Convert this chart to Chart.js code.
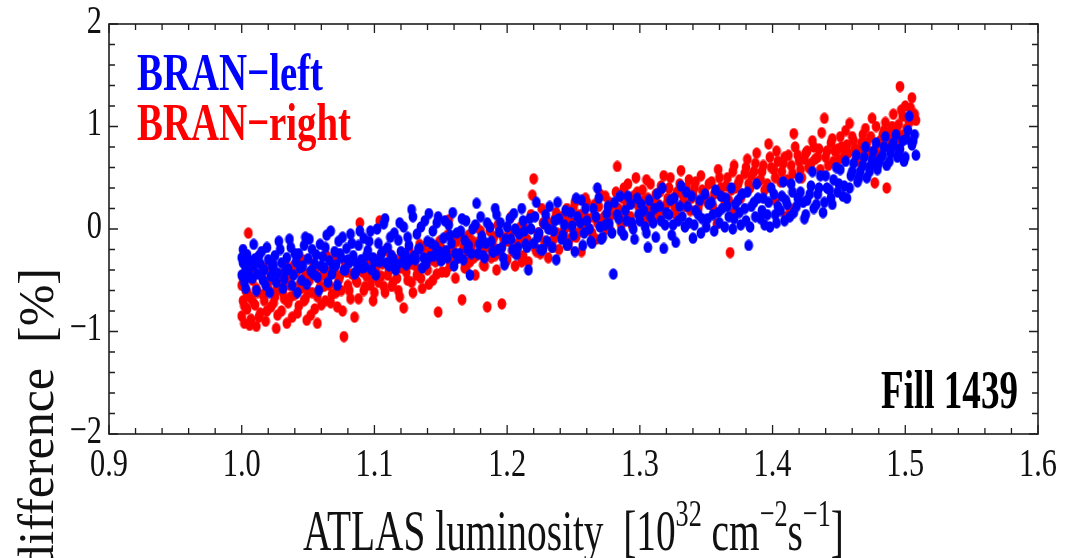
<!DOCTYPE html>
<html>
<head>
<meta charset="utf-8">
<script src="https://cdn.jsdelivr.net/npm/chart.js@4.4.0/dist/chart.umd.min.js"></script>
<style>
  html, body { margin: 0; padding: 0; background: #ffffff; }
  #wrap { width: 1074px; height: 558px; }
</style>
</head>
<body>
<div id="wrap"><canvas id="chart" width="1074" height="558"></canvas></div>
<script>
// Series names and colours
var seriesNames = ['BRAN\u2212left', 'BRAN\u2212right'];
var seriesColors = ['#0000ff', '#ff0000'];
var fillLabel = 'Fill 1439';

// Axis ticks
var xTicks = [0.9, 1.0, 1.1, 1.2, 1.3, 1.4, 1.5, 1.6];
var xTickLabels = ['0.9', '1.0', '1.1', '1.2', '1.3', '1.4', '1.5', '1.6'];
var yTicks = [-2, -1, 0, 1, 2];
var yTickLabels = ['\u22122', '\u22121', '0', '1', '2'];

// BRAN-left: [luminosity, difference %]
var bluePoints = [
  [1.000,-0.28],[1.000,-0.45],[1.001,-0.33],[1.002,-0.52],[1.003,-0.38],[1.004,-0.25],[1.005,-0.42],[1.006,-0.31],
  [1.008,-0.48],[1.009,-0.36],[1.010,-0.29],[1.012,-0.44],[1.014,-0.34],[1.015,-0.22],[1.017,-0.40],[1.018,-0.55],
  [1.020,-0.30],[1.022,-0.46],[1.023,-0.37],[1.025,-0.26],[1.027,-0.43],[1.028,-0.12],[1.030,-0.33],[1.032,-0.49],
  [1.034,-0.28],[1.035,-0.39],[1.037,-0.18],[1.039,-0.45],[1.041,-0.32],[1.043,-0.24],[1.045,-0.50],[1.046,-0.36],
  [1.048,-0.08],[1.050,-0.29],[1.052,-0.41],[1.053,-0.20],[1.055,-0.34],[1.057,-0.47],[1.059,-0.15],[1.061,-0.27],
  [1.062,-0.38],[1.064,-0.06],[1.066,-0.31],[1.068,-0.44],[1.070,-0.22],[1.071,-0.35],[1.073,-0.12],[1.075,-0.28],
  [1.077,-0.40],[1.079,-0.19],[1.081,-0.33],[1.082,-0.05],[1.084,-0.26],[1.086,-0.42],[1.088,-0.16],[1.090,-0.30],
  [1.092,-0.09],[1.093,-0.37],[1.095,-0.21],[1.097,-0.02],[1.099,-0.28],[1.101,-0.45],[1.103,-0.14],[1.105,-0.25],
  [1.107,0.05],[1.109,-0.33],[1.110,-0.18],[1.112,-0.08],[1.114,-0.29],[1.116,-0.40],[1.118,-0.11],[1.120,-0.22],
  [1.122,0.02],[1.124,-0.35],[1.126,-0.16],[1.128,0.19],[1.130,-0.26],[1.132,-0.05],[1.134,-0.19],[1.136,-0.38],
  [1.138,0.08],[1.140,-0.12],[1.142,-0.27],[1.144,-0.02],[1.146,-0.17],[1.148,0.12],[1.150,-0.31],[1.152,-0.09],
  [1.154,-0.21],[1.156,0.04],[1.158,-0.14],[1.160,-0.36],[1.162,-0.04],[1.164,-0.24],[1.166,0.10],[1.168,-0.11],
  [1.170,-0.20],[1.172,-0.45],[1.174,0.00],[1.177,0.25],[1.179,-0.15],[1.181,-0.07],[1.183,-0.28],[1.185,0.06],
  [1.188,-0.12],[1.190,-0.22],[1.192,0.14],[1.194,-0.03],[1.196,-0.18],[1.198,-0.35],[1.200,0.02],[1.203,-0.10],
  [1.205,0.15],[1.207,-0.25],[1.209,-0.05],[1.212,0.08],[1.214,-0.15],[1.216,-0.40],[1.218,0.00],[1.221,0.12],
  [1.223,-0.08],[1.225,-0.20],[1.228,0.05],[1.230,-0.12],[1.232,0.22],[1.235,-0.02],[1.237,-0.30],[1.239,0.10],
  [1.242,-0.06],[1.244,0.18],[1.246,-0.15],[1.249,0.03],[1.251,-0.22],[1.253,0.12],[1.256,0.28],[1.258,-0.04],
  [1.260,0.08],[1.263,-0.12],[1.265,0.20],[1.268,0.40],[1.270,0.02],[1.272,-0.08],[1.275,0.15],[1.277,0.05],
  [1.280,-0.44],[1.281,0.26],[1.284,0.10],[1.286,-0.02],[1.289,0.18],[1.291,0.32],[1.294,0.06],[1.296,-0.10],
  [1.299,0.14],[1.301,0.24],[1.304,0.02],[1.306,-0.18],[1.308,0.12],[1.311,0.20],[1.313,0.34],[1.316,0.08],
  [1.318,-0.19],[1.320,0.16],[1.323,0.28],[1.325,0.04],[1.327,-0.13],[1.330,0.22],[1.332,0.12],[1.335,0.36],
  [1.337,0.06],[1.340,-0.09],[1.342,0.18],[1.345,0.28],[1.347,0.10],[1.350,0.02],[1.352,0.24],[1.355,0.14],
  [1.357,0.38],[1.360,0.06],[1.362,0.20],[1.365,0.30],[1.367,0.12],[1.370,0.00],[1.372,0.24],[1.375,0.16],
  [1.377,0.34],[1.380,0.08],[1.382,-0.16],[1.384,0.22],[1.387,0.12],[1.389,0.30],[1.392,0.18],[1.394,0.04],
  [1.397,0.26],[1.399,0.40],[1.402,0.14],[1.404,0.22],[1.407,0.32],[1.409,0.08],[1.411,0.24],[1.414,0.44],
  [1.416,0.16],[1.419,0.30],[1.421,0.36],[1.424,0.10],[1.426,0.28],[1.429,0.42],[1.431,0.20],[1.434,0.34],
  [1.436,0.52],[1.439,0.26],[1.441,0.40],[1.444,0.30],[1.446,0.48],[1.449,0.36],[1.451,0.58],[1.454,0.42],
  [1.456,0.30],[1.459,0.52],[1.461,0.64],[1.464,0.46],[1.466,0.56],[1.469,0.70],[1.471,0.50],[1.474,0.62],
  [1.476,0.76],[1.479,0.58],[1.481,0.68],[1.484,0.80],[1.486,0.62],[1.489,0.74],[1.491,0.84],[1.494,0.70],
  [1.496,0.78],[1.499,0.66],[1.501,0.88],[1.503,1.10],[1.505,0.82],[1.507,0.92],[1.508,0.72],
  [1.001,-0.20],[1.003,-0.58],[1.006,-0.47],[1.009,-0.15],[1.011,-0.60],[1.013,-0.26],[1.016,-0.50],[1.019,-0.18],
  [1.021,-0.62],[1.024,-0.35],[1.026,-0.52],[1.029,-0.20],[1.031,-0.58],[1.033,-0.41],[1.036,-0.10],[1.038,-0.55],
  [1.040,-0.24],[1.042,-0.62],[1.044,-0.38],[1.047,-0.16],[1.049,-0.54],[1.051,-0.10],[1.054,-0.44],[1.056,-0.25],
  [1.058,-0.60],[1.060,-0.36],[1.063,-0.18],[1.065,-0.52],[1.067,-0.02],[1.069,-0.38],[1.072,-0.55],[1.074,-0.24],
  [1.076,-0.08],[1.078,-0.40],[1.080,-0.30],[1.083,-0.14],[1.085,-0.44],[1.087,-0.34],[1.089,-0.02],[1.091,-0.38],
  [1.094,-0.26],[1.096,-0.12],[1.098,-0.40],[1.100,-0.32],[1.102,0.00],[1.104,-0.32],[1.106,-0.22],[1.108,0.10],
  [1.111,-0.36],[1.113,-0.26],[1.115,-0.04],[1.117,-0.35],[1.119,0.06],[1.121,-0.32],[1.123,-0.24],[1.125,-0.08],
  [1.127,-0.30],[1.129,0.12],[1.131,-0.30],[1.133,-0.20],[1.135,0.02],[1.137,-0.28],[1.139,-0.34],[1.141,0.15],
  [1.143,-0.14],[1.145,-0.26],[1.147,0.06],[1.149,-0.22],[1.151,-0.30],[1.153,0.08],[1.155,-0.28],[1.157,-0.06],
  [1.159,0.16],[1.161,-0.24],[1.163,-0.28],[1.165,-0.02],[1.167,-0.30],[1.169,0.08],[1.171,-0.16],[1.173,-0.24],
  [1.176,0.04],[1.178,-0.24],[1.180,0.12],[1.182,-0.26],[1.184,-0.14],[1.187,0.02],[1.189,-0.22],[1.191,0.20],
  [1.193,-0.20],[1.195,0.06],[1.197,-0.28],[1.199,-0.10],[1.202,0.10],[1.204,-0.20],[1.206,0.00],[1.208,-0.18],
  [1.211,0.20],[1.213,-0.02],[1.215,-0.18],[1.217,0.10],[1.220,-0.14],[1.222,0.26],[1.224,-0.04],[1.227,-0.20],
  [1.229,0.14],[1.231,0.00],[1.234,-0.18],[1.236,0.08],[1.238,0.26],[1.241,-0.10],[1.243,0.04],[1.245,-0.16],
  [1.248,0.16],[1.250,-0.06],[1.252,0.30],[1.255,0.06],[1.257,-0.16],[1.259,0.20],[1.262,0.00],[1.264,-0.14],
  [1.267,0.12],[1.269,0.30],[1.271,-0.10],[1.274,0.04],[1.276,0.22],[1.279,-0.04],[1.283,0.14],[1.285,0.32],
  [1.288,-0.06],[1.290,0.08],[1.293,0.24],[1.295,0.00],[1.298,0.30],[1.300,0.08],[1.303,0.18],[1.305,-0.04],
  [1.307,0.28],[1.310,0.06],[1.312,-0.08],[1.315,0.22],[1.317,0.40],[1.319,0.04],[1.322,0.14],[1.324,-0.06],
  [1.326,0.30],[1.329,0.08],[1.331,0.42],[1.334,0.02],[1.336,0.22],[1.339,0.32],[1.341,0.04],[1.344,0.14],
  [1.346,-0.04],[1.349,0.34],[1.351,0.10],[1.354,0.26],[1.356,-0.02],[1.359,0.16],[1.361,0.32],[1.364,0.02],
  [1.366,0.22],[1.369,0.40],[1.371,0.10],[1.374,0.28],[1.376,0.04],[1.379,0.20],[1.381,0.36],[1.383,0.02],
  [1.386,0.26],[1.388,0.44],[1.391,0.10],[1.393,0.30],[1.396,0.14],[1.398,0.02],[1.401,0.34],[1.403,0.06],
  [1.406,0.18],[1.408,0.46],[1.410,0.28],[1.413,0.12],[1.415,0.36],[1.418,0.22],[1.420,0.50],[1.423,0.26],
  [1.425,0.14],[1.428,0.34],[1.430,0.56],[1.433,0.24],[1.435,0.40],[1.438,0.16],[1.440,0.52],[1.443,0.38],
  [1.445,0.24],[1.448,0.60],[1.450,0.44],[1.453,0.32],[1.455,0.66],[1.458,0.40],[1.460,0.56],[1.463,0.72],
  [1.465,0.50],[1.468,0.62],[1.470,0.80],[1.473,0.56],[1.475,0.68],[1.478,0.84],[1.480,0.64],[1.483,0.72],
  [1.485,0.90],[1.488,0.66],[1.490,0.80],[1.493,0.92],[1.495,0.74],[1.498,0.86],[1.500,0.70],[1.502,0.96],
  [1.506,0.86]
];

// BRAN-right: [luminosity, difference %]
var redPoints = [
  [1.000,-0.85],[1.000,-0.55],[1.001,-0.70],[1.002,-0.92],[1.003,-0.60],[1.004,-0.78],[1.005,-0.04],[1.006,-0.66],
  [1.007,-0.88],[1.008,-0.50],[1.010,-0.74],[1.011,-0.95],[1.012,-0.62],[1.014,-0.82],[1.015,-0.45],[1.017,-0.70],
  [1.018,-0.90],[1.020,-0.58],[1.022,-0.76],[1.023,-0.40],[1.025,-0.66],[1.026,-0.97],[1.028,-0.53],[1.030,-0.80],
  [1.031,-0.62],[1.033,-0.35],[1.035,-0.72],[1.036,-0.55],[1.038,-0.86],[1.040,-0.64],[1.041,-0.42],[1.043,-0.75],
  [1.045,-0.58],[1.046,-0.30],[1.048,-0.68],[1.049,-0.89],[1.051,-0.50],[1.053,-0.62],[1.055,-0.78],[1.056,-0.38],
  [1.057,-0.92],[1.059,-0.57],[1.061,-0.45],[1.063,-0.70],[1.064,-0.26],[1.066,-0.55],[1.068,-0.64],[1.070,-0.40],
  [1.072,-0.76],[1.073,-0.50],[1.075,-0.60],[1.077,-1.05],[1.078,-0.34],[1.080,-0.55],[1.082,-0.68],[1.083,-0.44],
  [1.085,-0.86],[1.087,-0.52],[1.089,0.06],[1.090,-0.38],[1.092,-0.60],[1.094,-0.46],[1.096,-0.28],[1.097,-0.55],
  [1.099,-0.70],[1.101,-0.40],[1.103,-0.52],[1.104,0.08],[1.106,-0.34],[1.108,-0.62],[1.110,-0.45],[1.112,-0.25],
  [1.113,-0.56],[1.115,-0.38],[1.117,-0.48],[1.119,-0.66],[1.121,-0.30],[1.122,-0.77],[1.124,-0.42],[1.126,-0.20],
  [1.128,-0.52],[1.130,-0.35],[1.132,-0.45],[1.134,-0.15],[1.136,-0.58],[1.138,-0.28],[1.140,-0.40],[1.142,-0.22],
  [1.144,-0.50],[1.146,-0.32],[1.148,-0.81],[1.149,-0.12],[1.151,-0.42],[1.153,-0.26],[1.156,0.09],[1.157,-0.36],
  [1.159,-0.18],[1.161,-0.48],[1.163,-0.28],[1.165,-0.06],[1.166,-0.69],[1.168,-0.38],[1.170,-0.22],[1.172,-0.32],
  [1.174,-0.12],[1.176,-0.45],[1.178,-0.25],[1.180,-0.02],[1.182,-0.35],[1.185,-0.76],[1.186,-0.18],[1.188,-0.28],
  [1.190,-0.08],[1.192,-0.40],[1.194,-0.20],[1.196,-0.73],[1.198,-0.12],[1.200,-0.30],[1.202,-0.05],[1.204,-0.22],
  [1.206,-0.36],[1.208,-0.14],[1.210,0.02],[1.212,-0.26],[1.214,-0.10],[1.216,-0.32],[1.219,0.33],[1.220,0.49],
  [1.221,-0.18],[1.223,-0.04],[1.225,-0.24],[1.227,0.06],[1.229,-0.14],[1.231,-0.28],[1.233,0.00],[1.235,-0.10],
  [1.237,0.16],[1.239,-0.20],[1.241,-0.05],[1.244,0.10],[1.246,-0.16],[1.248,0.02],[1.250,0.20],[1.252,-0.08],
  [1.254,0.08],[1.256,-0.22],[1.258,0.14],[1.260,0.26],[1.262,0.00],[1.265,0.12],[1.267,-0.10],[1.269,0.22],
  [1.271,0.06],[1.274,0.32],[1.276,0.16],[1.278,-0.02],[1.280,0.24],[1.283,0.61],[1.285,0.10],[1.287,0.30],
  [1.289,0.18],[1.291,0.44],[1.294,0.04],[1.296,0.26],[1.298,0.36],[1.300,0.14],[1.303,0.28],[1.305,0.48],
  [1.307,0.20],[1.309,0.08],[1.312,0.34],[1.314,0.24],[1.316,0.42],[1.319,0.16],[1.321,0.30],[1.323,0.50],
  [1.326,0.22],[1.328,0.36],[1.331,0.57],[1.333,0.28],[1.335,0.40],[1.338,0.18],[1.340,0.34],[1.342,0.46],
  [1.345,0.26],[1.347,0.38],[1.350,0.30],[1.352,0.44],[1.355,0.22],[1.357,0.36],[1.358,0.05],[1.360,0.50],
  [1.362,0.32],[1.365,0.42],[1.367,0.28],[1.368,-0.23],[1.370,0.56],[1.371,0.16],[1.372,0.40],[1.375,0.48],
  [1.377,0.34],[1.380,0.60],[1.382,0.44],[1.384,0.52],[1.387,0.64],[1.389,0.46],[1.392,0.56],[1.394,0.38],
  [1.397,0.83],[1.399,0.60],[1.402,0.50],[1.402,0.28],[1.404,0.66],[1.407,0.56],[1.409,0.70],[1.410,0.12],
  [1.411,0.48],[1.413,0.20],[1.414,0.62],[1.416,0.93],[1.419,0.72],[1.421,0.58],[1.424,0.68],[1.426,0.76],
  [1.429,0.64],[1.431,0.80],[1.434,0.70],[1.436,0.58],[1.439,1.08],[1.441,0.76],[1.444,0.84],[1.446,0.66],
  [1.449,0.78],[1.451,0.90],[1.454,0.72],[1.456,0.82],[1.458,1.03],[1.461,0.86],[1.463,0.68],[1.466,0.78],
  [1.468,0.92],[1.471,0.84],[1.473,0.60],[1.475,1.08],[1.477,0.45],[1.479,0.74],[1.481,0.86],[1.484,0.96],
  [1.486,0.40],[1.488,0.90],[1.490,1.00],[1.492,0.82],[1.494,0.94],[1.496,1.39],[1.498,1.10],[1.500,1.20],
  [1.501,0.98],[1.503,1.04],[1.505,1.28],[1.507,1.12],[1.508,1.06],
  [1.001,-0.48],[1.002,-0.75],[1.004,-0.62],[1.006,-0.94],[1.008,-0.70],[1.009,-0.42],[1.011,-0.58],[1.013,-0.86],
  [1.016,-0.64],[1.017,-0.38],[1.019,-0.80],[1.021,-0.50],[1.024,-0.72],[1.026,-0.60],[1.027,-0.84],[1.029,-0.44],
  [1.032,-0.68],[1.034,-0.92],[1.036,-0.48],[1.037,-0.66],[1.039,-0.36],[1.042,-0.82],[1.044,-0.54],[1.047,-0.70],
  [1.048,-0.44],[1.050,-0.62],[1.052,-0.84],[1.054,-0.34],[1.057,-0.66],[1.058,-0.48],[1.060,-0.74],[1.062,-0.56],
  [1.065,-0.42],[1.067,-0.72],[1.069,-0.30],[1.071,-0.62],[1.074,-0.46],[1.076,-0.80],[1.079,-0.42],[1.081,-0.60],
  [1.084,-0.30],[1.086,-0.50],[1.088,-0.68],[1.091,-0.42],[1.093,-0.56],[1.095,-0.34],[1.098,-0.48],[1.100,-0.62],
  [1.102,-0.30],[1.105,-0.46],[1.107,-0.56],[1.109,-0.20],[1.111,-0.40],[1.114,-0.52],[1.116,-0.30],[1.118,-0.60],
  [1.120,-0.38],[1.123,-0.26],[1.125,-0.50],[1.127,-0.34],[1.129,-0.62],[1.131,-0.28],[1.133,-0.40],[1.135,-0.48],
  [1.137,-0.18],[1.139,-0.36],[1.141,-0.54],[1.143,-0.30],[1.145,-0.20],[1.147,-0.44],[1.150,-0.18],[1.152,-0.28],
  [1.154,-0.42],[1.155,-0.06],[1.158,-0.22],[1.160,-0.32],[1.162,-0.12],[1.164,-0.26],[1.167,-0.18],[1.169,-0.38],
  [1.171,-0.06],[1.173,-0.18],[1.175,-0.28],[1.177,0.02],[1.179,-0.12],[1.181,-0.22],[1.183,-0.36],[1.187,-0.02],
  [1.189,-0.14],[1.191,-0.26],[1.193,0.04],[1.195,-0.20],[1.197,-0.08],[1.199,-0.32],[1.201,-0.12],[1.203,0.12],
  [1.205,-0.20],[1.207,-0.02],[1.209,-0.14],[1.211,-0.32],[1.213,0.02],[1.215,-0.10],[1.218,0.14],[1.222,-0.22],
  [1.224,-0.04],[1.226,0.20],[1.228,-0.12],[1.230,0.08],[1.232,0.00],[1.234,-0.18],[1.236,0.10],[1.238,-0.04],
  [1.240,0.12],[1.243,-0.02],[1.245,0.20],[1.247,-0.10],[1.249,0.06],[1.251,0.26],[1.253,-0.04],[1.255,0.14],
  [1.257,0.02],[1.259,0.30],[1.261,0.10],[1.264,-0.04],[1.266,0.24],[1.268,0.06],[1.270,0.34],[1.273,0.12],
  [1.275,0.00],[1.277,0.26],[1.279,0.14],[1.282,0.36],[1.284,0.20],[1.286,0.04],[1.288,0.40],[1.290,0.24],
  [1.293,0.12],[1.295,0.32],[1.297,0.50],[1.299,0.22],[1.302,0.38],[1.304,0.10],[1.306,0.30],[1.308,0.44],
  [1.311,0.26],[1.313,0.14],[1.315,0.36],[1.318,0.52],[1.320,0.24],[1.322,0.40],[1.325,0.30],[1.327,0.14],
  [1.330,0.44],[1.332,0.34],[1.334,0.22],[1.337,0.48],[1.339,0.30],[1.341,0.40],[1.344,0.20],[1.346,0.52],
  [1.349,0.36],[1.351,0.26],[1.354,0.46],[1.356,0.34],[1.359,0.58],[1.361,0.40],[1.364,0.26],[1.366,0.50],
  [1.369,0.38],[1.371,0.62],[1.374,0.44],[1.376,0.30],[1.379,0.54],[1.381,0.68],[1.383,0.40],[1.386,0.56],
  [1.388,0.74],[1.391,0.48],[1.393,0.62],[1.396,0.44],[1.398,0.70],[1.401,0.58],[1.403,0.76],[1.406,0.46],
  [1.408,0.64],[1.412,0.72],[1.415,0.54],[1.417,0.80],[1.420,0.66],[1.422,0.50],[1.425,0.74],[1.427,0.60],
  [1.430,0.86],[1.432,0.68],[1.435,0.78],[1.437,0.94],[1.440,0.70],[1.442,0.62],[1.445,0.88],[1.447,0.76],
  [1.450,0.68],[1.452,0.80],[1.455,0.96],[1.457,0.74],[1.460,0.90],[1.462,0.78],[1.465,0.66],[1.467,0.84],
  [1.470,0.98],[1.472,0.76],[1.474,0.90],[1.476,0.66],[1.478,1.00],[1.480,0.84],[1.483,0.92],[1.485,1.04],
  [1.487,0.80],[1.489,0.96],[1.491,1.12],[1.493,0.88],[1.495,1.02],[1.497,1.16],[1.499,0.92],[1.502,1.08],
  [1.504,1.18]
];

function toXY(points) {
  return points.map(function (p) { return { x: p[0], y: p[1] }; });
}

// Slightly tall elliptical marker, as in the squeezed original
function makeDot(color) {
  var c = document.createElement('canvas');
  c.width = 10;
  c.height = 12;
  var g = c.getContext('2d');
  g.fillStyle = color;
  g.beginPath();
  g.ellipse(5, 6, 4.4, 5.7, 0, 0, Math.PI * 2);
  g.fill();
  return c;
}

// Text squeezed horizontally (the original uses a narrow Times)
function squeezeText(ctx, str, x, y, font, color, align, baseline, sx) {
  ctx.save();
  ctx.font = font;
  ctx.fillStyle = color;
  ctx.textAlign = align;
  ctx.textBaseline = baseline;
  ctx.translate(x, y);
  ctx.scale(sx, 1);
  ctx.fillText(str, 0, 0);
  ctx.restore();
}

// Text squeezed to a given width, left aligned
function fitText(ctx, str, x, y, width, font, color) {
  ctx.save();
  ctx.font = font;
  var w = ctx.measureText(str).width;
  ctx.restore();
  squeezeText(ctx, str, x, y, font, color, 'left', 'alphabetic', width / w);
}

var serif = '"Liberation Serif", "Times New Roman", serif';

// Frame, inside ticks, labels and titles
var framePlugin = {
  id: 'frame',
  afterDraw: function (chart) {
    var ctx = chart.ctx;
    var xs = chart.scales.x;
    var ys = chart.scales.y;
    var a = chart.chartArea;
    var i, v, p, len;

    ctx.save();
    ctx.strokeStyle = '#1e1e1e';
    ctx.lineWidth = 1.6;
    ctx.strokeRect(a.left, a.top, a.right - a.left, a.bottom - a.top);

    ctx.lineWidth = 1.3;
    ctx.beginPath();
    for (i = 0; i <= 35; i++) {
      v = 0.9 + i * 0.02;
      p = xs.getPixelForValue(v);
      len = (i % 5 === 0) ? 9 : 6;
      ctx.moveTo(p, a.bottom); ctx.lineTo(p, a.bottom - len);
      ctx.moveTo(p, a.top); ctx.lineTo(p, a.top + len);
    }
    for (i = 0; i <= 20; i++) {
      v = -2 + i * 0.2;
      p = ys.getPixelForValue(v);
      len = (i % 5 === 0) ? 9 : 6;
      ctx.moveTo(a.left, p); ctx.lineTo(a.left + len, p);
      ctx.moveTo(a.right, p); ctx.lineTo(a.right - len, p);
    }
    ctx.stroke();
    ctx.restore();

    // tick labels
    xTicks.forEach(function (t, k) {
      squeezeText(ctx, xTickLabels[k], xs.getPixelForValue(t), 476,
        '41px ' + serif, '#111', 'center', 'alphabetic', 0.74);
    });
    yTicks.forEach(function (t, k) {
      squeezeText(ctx, yTickLabels[k], 102, ys.getPixelForValue(t) - 2,
        '41px ' + serif, '#111', 'right', 'middle', 0.74);
    });

    // x title with superscripts
    var parts = [
      ['ATLAS luminosity  [10', false], ['32', true], [' cm', false],
      ['\u22122', true], ['s', false], ['\u22121', true], [']', false]
    ];
    var sx = 0.69, x = 303, base = 550;
    ctx.save();
    parts.forEach(function (pt) {
      var f = pt[1] ? '38px ' + serif : '57px ' + serif;
      ctx.font = f;
      var w = ctx.measureText(pt[0]).width * sx;
      squeezeText(ctx, pt[0], x, pt[1] ? base - 24 : base, f, '#111', 'left', 'alphabetic', sx);
      x += w;
    });
    ctx.restore();

    // y title, rotated
    ctx.save();
    ctx.translate(53, 268);
    ctx.rotate(-Math.PI / 2);
    ctx.font = '50px ' + serif;
    ctx.fillStyle = '#111';
    ctx.textAlign = 'right';
    ctx.textBaseline = 'alphabetic';
    ctx.fillText('difference  [%]', 0, 0);
    ctx.restore();

    // legend text and fill label
    fitText(ctx, seriesNames[0], 137, 90, 186, 'bold 53px ' + serif, seriesColors[0]);
    fitText(ctx, seriesNames[1], 137, 140, 214, 'bold 53px ' + serif, seriesColors[1]);
    fitText(ctx, fillLabel, 881, 408, 137, 'bold 54px ' + serif, '#000');
  }
};

document.addEventListener('DOMContentLoaded', function () {
  var ctx = document.getElementById('chart').getContext('2d');
  new Chart(ctx, {
    type: 'scatter',
    data: {
      datasets: [
        {
          label: seriesNames[0],
          data: toXY(bluePoints),
          pointStyle: makeDot(seriesColors[0]),
          backgroundColor: seriesColors[0],
          borderColor: seriesColors[0],
          borderWidth: 0
        },
        {
          label: seriesNames[1],
          data: toXY(redPoints),
          pointStyle: makeDot(seriesColors[1]),
          backgroundColor: seriesColors[1],
          borderColor: seriesColors[1],
          borderWidth: 0
        }
      ]
    },
    options: {
      responsive: false,
      animation: false,
      devicePixelRatio: 1,
      layout: { padding: { left: 109, right: 36, top: 24, bottom: 124 } },
      plugins: {
        legend: { display: false },
        tooltip: { enabled: false }
      },
      scales: {
        x: { type: 'linear', min: 0.9, max: 1.6, display: false },
        y: { type: 'linear', min: -2, max: 2, display: false }
      }
    },
    plugins: [framePlugin]
  });
});
</script>
</body>
</html>
